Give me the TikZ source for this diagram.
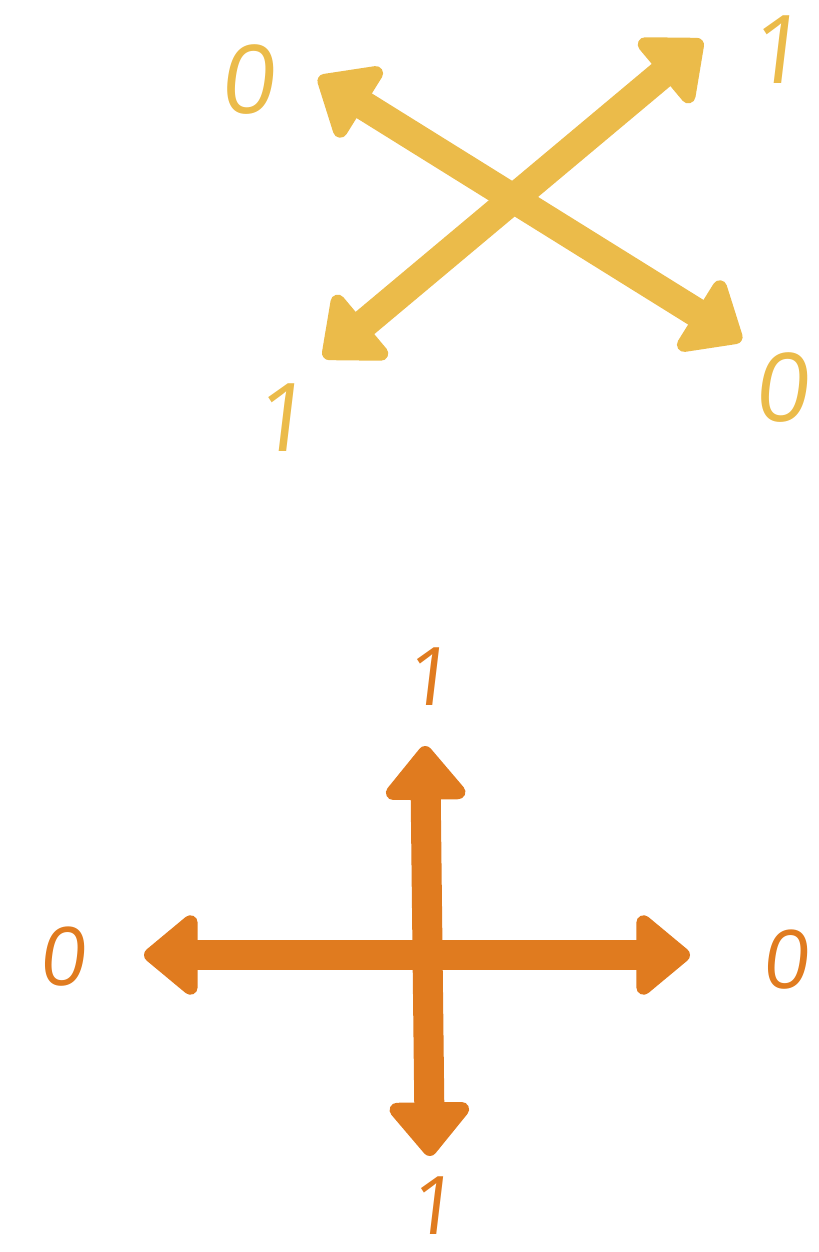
\documentclass[tikz,border=0pt]{standalone}
\usepackage{fontspec}
\newfontfamily\hand[FakeSlant=0.12]{Open Sans}
\usetikzlibrary{arrows.meta}
\definecolor{ylw}{RGB}{235,187,74}
\definecolor{org}{RGB}{224,123,31}
\tikzset{
  ytip/.tip={Triangle[round,length=0.58cm,width=0.95cm,line width=0.2cm]},
  otip/.tip={Triangle[round,length=0.58cm,width=0.92cm,line width=0.2cm]},
  yarrow/.style={draw=ylw, line width=0.29cm, line cap=round, ytip-ytip, shorten <=0.1cm, shorten >=0.1cm},
  oarrow/.style={draw=org, line width=0.30cm, line cap=round, otip-otip, shorten <=0.1cm, shorten >=0.1cm},
  ylab/.style={text=ylw, font=\hand\fontsize{27}{27}\selectfont, inner sep=0pt},
  olab/.style={text=org, font=\hand\fontsize{23}{23}\selectfont, inner sep=0pt}
}
\begin{document}
\begin{tikzpicture}[x=0.01cm,y=-0.01cm]
\useasboundingbox (0,0) rectangle (818,1252);
% yellow X
\coordinate (yA1) at (316,364);
\coordinate (yA2) at (710,34);
\coordinate (yB1) at (310,72);
\coordinate (yB2) at (750,346);
\draw[yarrow] (yA1) -- (yA2);
\draw[yarrow] (yB1) -- (yB2);
\node[ylab] (y0a) at (247,80) {0};
\node[ylab] (y1a) at (776,50) {1};
\node[ylab] (y1b) at (281,418) {1};
\node[ylab, anchor=east] (y0b) at (808,388) {0};
% orange plus
\coordinate (oT) at (425,736);
\coordinate (oB) at (430,1166);
\coordinate (oL) at (134,955);
\coordinate (oR) at (700,955);
\draw[oarrow] (oB) -- (oT);
\draw[oarrow] (oL) -- (oR);
\node[olab] (o1a) at (428,677) {1};
\node[olab] (o0a) at (62,957) {0};
\node[olab, anchor=east] (o0b) at (808,960) {0};
\node[olab] (o1b) at (432,1206) {1};
\end{tikzpicture}
\end{document}
